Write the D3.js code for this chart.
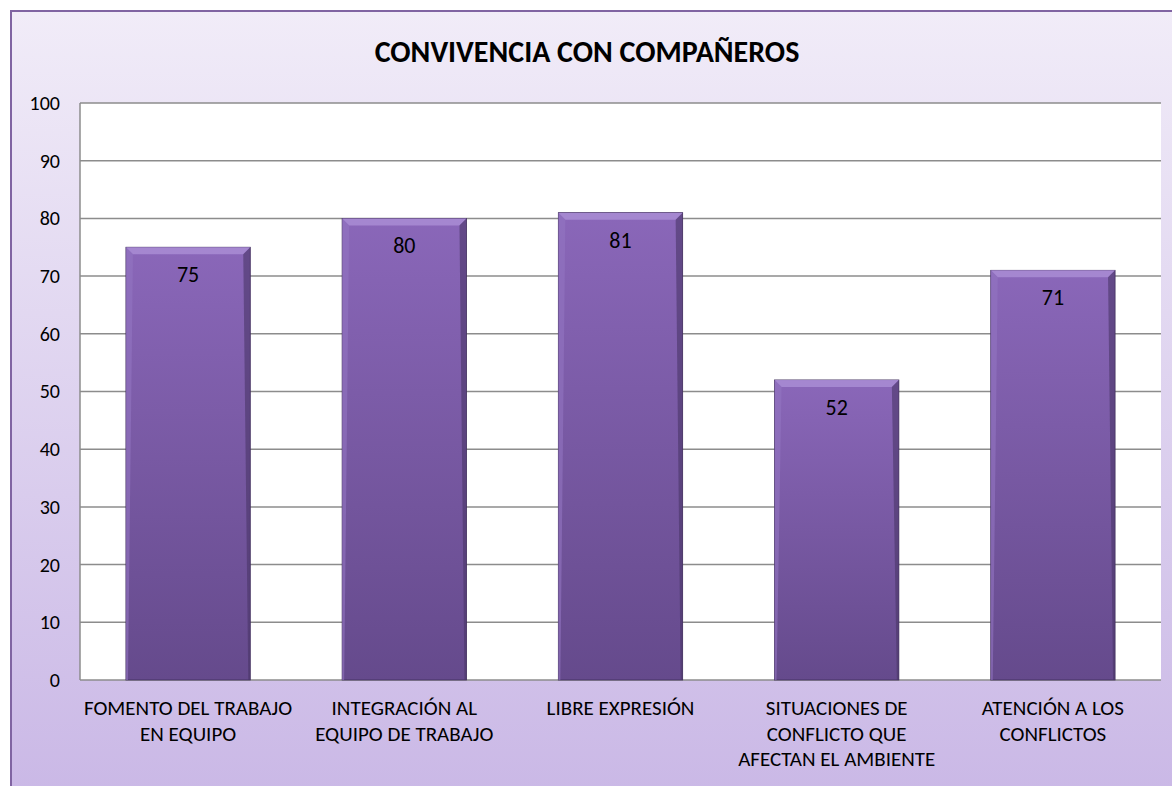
<!DOCTYPE html>
<html>
<head>
<meta charset="utf-8">
<script src="https://cdn.jsdelivr.net/npm/d3@7"></script>
<style>
  html, body { margin: 0; padding: 0; background: #fff; }
  svg { display: block; font-family: Carlito, Lato, "Open Sans", sans-serif; }
</style>
</head>
<body>
<script>
var categories = [
  ["FOMENTO DEL TRABAJO", "EN EQUIPO"],
  ["INTEGRACIÓN AL", "EQUIPO DE TRABAJO"],
  ["LIBRE EXPRESIÓN"],
  ["SITUACIONES DE", "CONFLICTO QUE", "AFECTAN EL AMBIENTE"],
  ["ATENCIÓN A LOS", "CONFLICTOS"]
];
var values = [75, 80, 81, 52, 71];
var yTicks = [0, 10, 20, 30, 40, 50, 60, 70, 80, 90, 100];
var title = "CONVIVENCIA CON COMPAÑEROS";

var W = 1172, H = 786;
var plot = {left: 80, right: 1161, top: 103, bottom: 680};

var svg = d3.select("body").append("svg")
  .attr("width", W).attr("height", H);

var defs = svg.append("defs");
var bg = defs.append("linearGradient").attr("id", "bg")
  .attr("x1", 0).attr("y1", 0).attr("x2", 0).attr("y2", 1);
bg.append("stop").attr("offset", "0%").attr("stop-color", "#f1ecf8");
bg.append("stop").attr("offset", "100%").attr("stop-color", "#cab8e6");

var barG = defs.append("linearGradient").attr("id", "barG")
  .attr("x1", 0).attr("y1", 0).attr("x2", 0).attr("y2", 1);
barG.append("stop").attr("offset", "0%").attr("stop-color", "#8a67b9");
barG.append("stop").attr("offset", "100%").attr("stop-color", "#654a8c");

// chart area
svg.append("rect")
  .attr("x", 11).attr("y", 11).attr("width", W).attr("height", H)
  .attr("fill", "url(#bg)")
  .attr("stroke", "#8064a2").attr("stroke-width", 2);

svg.append("text")
  .attr("x", 587).attr("y", 62)
  .attr("text-anchor", "middle")
  .attr("font-size", 30).attr("font-weight", "bold")
  .attr("fill", "#000")
  .text(title);

var x = d3.scaleBand()
  .domain(d3.range(values.length))
  .range([plot.left, plot.right])
  .paddingInner(0.425).paddingOuter(0.2125);

var y = d3.scaleLinear().domain([0, 100]).range([plot.bottom, plot.top]);

svg.append("rect")
  .attr("x", plot.left).attr("y", plot.top)
  .attr("width", plot.right - plot.left).attr("height", plot.bottom - plot.top)
  .attr("fill", "#fff");

// gridlines
svg.append("g")
  .selectAll("line").data(yTicks).enter().append("line")
  .attr("x1", plot.left).attr("x2", plot.right)
  .attr("y1", d => y(d)).attr("y2", d => y(d))
  .attr("stroke", "#8c8c8c").attr("stroke-width", 1.5);

svg.append("line")
  .attr("x1", plot.left).attr("x2", plot.left)
  .attr("y1", plot.top).attr("y2", plot.bottom)
  .attr("stroke", "#8c8c8c").attr("stroke-width", 1.5);

// y axis labels
var yAxis = d3.axisLeft(y).tickValues(yTicks).tickSize(0).tickPadding(20);
var ya = svg.append("g").attr("transform", "translate(" + plot.left + ",0)").call(yAxis);
ya.select(".domain").remove();
ya.selectAll("text").attr("font-size", 20).attr("fill", "#000")
  .attr("font-family", "Carlito, Lato, 'Open Sans', sans-serif");

// bars
var bw = x.bandwidth();
var bev = 7;
var bars = svg.append("g").selectAll("g").data(values).enter().append("g");

bars.append("rect")
  .attr("x", (d, i) => x(i)).attr("y", d => y(d))
  .attr("width", bw).attr("height", d => y(0) - y(d))
  .attr("fill", "url(#barG)")
  .attr("stroke", "#3f2d5a").attr("stroke-width", 0.8);

// bevel top
bars.append("path")
  .attr("d", (d, i) => {
    var x0 = x(i), x1 = x(i) + bw, t = y(d);
    return "M" + x0 + "," + t + "L" + x1 + "," + t + "L" + (x1 - bev) + "," + (t + bev) +
      "L" + (x0 + bev) + "," + (t + bev) + "Z";
  })
  .attr("fill", "#a78bd3").attr("opacity", 0.9);
// bevel left
bars.append("path")
  .attr("d", (d, i) => {
    var x0 = x(i), t = y(d), b = y(0);
    return "M" + x0 + "," + t + "L" + (x0 + bev) + "," + (t + bev) + "L" + (x0 + 2) + "," + b +
      "L" + x0 + "," + b + "Z";
  })
  .attr("fill", "#9274c2").attr("opacity", 0.6);
// bevel right
bars.append("path")
  .attr("d", (d, i) => {
    var x1 = x(i) + bw, t = y(d), b = y(0);
    return "M" + x1 + "," + t + "L" + (x1 - bev) + "," + (t + bev) + "L" + (x1 - 2) + "," + b +
      "L" + x1 + "," + b + "Z";
  })
  .attr("fill", "#4a3668").attr("opacity", 0.6);

// data labels
bars.append("text")
  .attr("x", (d, i) => x(i) + bw / 2)
  .attr("y", d => y(d) + 35)
  .attr("text-anchor", "middle")
  .attr("font-size", 22).attr("fill", "#000")
  .text(d => d);

// category labels
var cat = svg.append("g").selectAll("text").data(categories).enter().append("text")
  .attr("x", (d, i) => x(i) + bw / 2)
  .attr("y", 715)
  .attr("text-anchor", "middle")
  .attr("font-size", 21).attr("fill", "#000");
cat.selectAll("tspan").data(d => d).enter().append("tspan")
  .attr("x", function () { return d3.select(this.parentNode).attr("x"); })
  .attr("dy", (d, j) => j === 0 ? 0 : 25.5)
  .text(d => d);
</script>
</body>
</html>
